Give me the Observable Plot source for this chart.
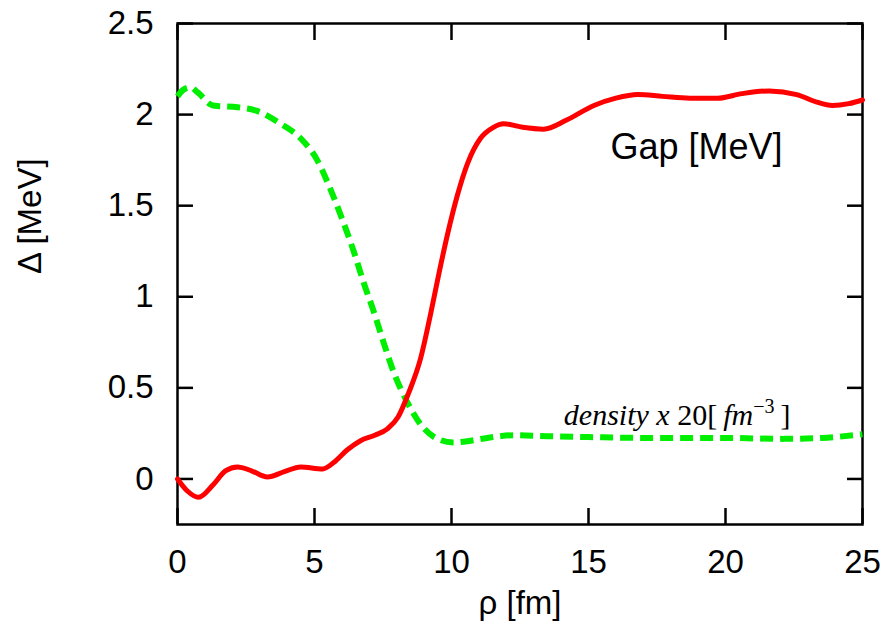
<!DOCTYPE html>
<html>
<head>
<meta charset="utf-8">
<script src="https://cdn.jsdelivr.net/npm/d3@7"></script>
<script src="https://cdn.jsdelivr.net/npm/@observablehq/plot@0.6"></script>
<style>
  html, body { margin: 0; padding: 0; background: #fff; }
  #chart { width: 892px; height: 635px; }
</style>
</head>
<body>
<div id="chart"></div>
<script>
// ---- data ----
const gapRho = [0, 0.36, 0.77, 1.31, 1.75, 2.19, 2.7, 3.28, 3.9, 4.49, 5.3, 5.7, 6.2, 6.68, 7.2, 7.66, 8.05, 8.43, 8.87, 9.23, 9.53, 9.85, 10.22, 10.58, 11.06, 11.53, 11.9, 12.6, 13.36, 14.2, 15.2, 16.0, 16.8, 17.7, 18.7, 19.7, 20.6, 21.6, 22.6, 23.3, 23.9, 24.5, 25];
const gapVal = [0, -0.066, -0.10, -0.03, 0.044, 0.066, 0.045, 0.011, 0.04, 0.066, 0.055, 0.09, 0.16, 0.21, 0.24, 0.275, 0.34, 0.47, 0.66, 0.90, 1.12, 1.34, 1.56, 1.73, 1.87, 1.93, 1.95, 1.93, 1.92, 1.97, 2.05, 2.09, 2.11, 2.10, 2.09, 2.09, 2.115, 2.13, 2.11, 2.07, 2.05, 2.06, 2.08];

const denRho = [0, 0.2, 0.47, 0.75, 1.3, 2.2, 2.9, 3.76, 4.49, 5.1, 5.5, 5.95, 6.43, 6.79, 7.16, 7.52, 7.88, 8.39, 8.87, 9.49, 10.07, 10.7, 11.3, 12.3, 13.5, 15, 17.3, 20, 22.1, 23.5, 25];
const denVal = [2.10, 2.135, 2.15, 2.12, 2.05, 2.04, 2.02, 1.95, 1.87, 1.75, 1.62, 1.45, 1.25, 1.08, 0.92, 0.75, 0.59, 0.42, 0.30, 0.22, 0.20, 0.21, 0.225, 0.24, 0.235, 0.23, 0.225, 0.225, 0.22, 0.225, 0.245];

const xTicks = [0, 5, 10, 15, 20, 25];
const yTicks = [0, 0.5, 1, 1.5, 2, 2.5];
const xTitle = "ρ [fm]";
const yTitle = "Δ [MeV]";
const gapLabel = "Gap [MeV]";
const densityLabel = "density x 20[fm−3]";
const labels = [
  {x: 15.8, y: 1.82, text: gapLabel},
  {x: 14.1, y: 0.35, text: densityLabel}
];

const gap = gapRho.map((r, i) => ({rho: r, v: gapVal[i]}));
const den = denRho.map((r, i) => ({rho: r, v: denVal[i]}));

const FONT = "'Liberation Sans', Arial, Helvetica, sans-serif";
const SERIF = "'Liberation Serif', 'Times New Roman', serif";
const fmt = d => String(d);

const svg = Plot.plot({
  width: 892,
  height: 635,
  marginLeft: 177,
  marginRight: 30,
  marginTop: 23,
  marginBottom: 111,
  style: {fontFamily: FONT, fontSize: "33px", color: "#000", background: "#fff"},
  x: {domain: [0, 25]},
  y: {domain: [-0.25, 2.5]},
  marks: [
    // inward ticks on all four sides
    Plot.axisX({anchor: "bottom", ticks: xTicks, tickSize: -16, tickFormat: () => "", label: null, strokeWidth: 2.5}),
    Plot.axisX({anchor: "top", ticks: xTicks, tickSize: -16, tickFormat: () => "", label: null, strokeWidth: 2.5}),
    Plot.axisY({anchor: "left", ticks: yTicks, tickSize: -16, tickFormat: () => "", label: null, strokeWidth: 2.5}),
    Plot.axisY({anchor: "right", ticks: yTicks, tickSize: -16, tickFormat: () => "", label: null, strokeWidth: 2.5}),
    // tick labels
    Plot.axisX({anchor: "bottom", ticks: xTicks, tickSize: 0, tickPadding: 25, fontSize: 33, tickFormat: fmt, label: null}),
    Plot.axisY({anchor: "left", ticks: yTicks, tickSize: 0, tickPadding: 24, fontSize: 33, tickFormat: fmt, label: null}),
    // axis titles
    Plot.text([xTitle], {frameAnchor: "bottom", text: d => d, dy: 89, fontSize: 33, fill: "#000"}),
    Plot.text([yTitle], {frameAnchor: "left", text: d => d, dx: -147, rotate: -90, fontSize: 33, fill: "#000"}),
    Plot.frame({stroke: "#000", strokeWidth: 2.5}),
    Plot.line(den, {x: "rho", y: "v", stroke: "#00ee00", strokeWidth: 6, strokeDasharray: "13,7", strokeLinecap: "butt", curve: "monotone-x"}),
    Plot.line(gap, {x: "rho", y: "v", stroke: "#ff0000", strokeWidth: 5, curve: "monotone-x"}),
    Plot.text(labels.slice(0, 1), {x: "x", y: "y", text: "text", textAnchor: "start", fontSize: 36, fill: "#000"}),
    Plot.text(labels.slice(1), {x: "x", y: "y", text: "text", textAnchor: "start", fontSize: 30, fill: "#000", fontFamily: SERIF})
  ]
});

// rich formatting of the density label (italics + superscript)
const t = [...svg.querySelectorAll("text")].find(e => e.textContent === densityLabel);
if (t) {
  t.textContent = "";
  const parts = [
    {s: "density x ", it: true},
    {s: "20", it: false},
    {s: "[\u2009", it: false},
    {s: "fm", it: true},
    {s: "\u22123", it: false, sup: true},
    {s: "\u2009]", it: false, down: true}
  ];
  const ns = "http://www.w3.org/2000/svg";
  for (const p of parts) {
    const ts = document.createElementNS(ns, "tspan");
    ts.textContent = p.s;
    ts.setAttribute("font-style", p.it ? "italic" : "normal");
    if (p.sup) { ts.setAttribute("dy", "-12"); ts.setAttribute("font-size", "20"); }
    if (p.down) { ts.setAttribute("dy", "12"); }
    t.appendChild(ts);
  }
}

document.getElementById("chart").appendChild(svg);
</script>
</body>
</html>
